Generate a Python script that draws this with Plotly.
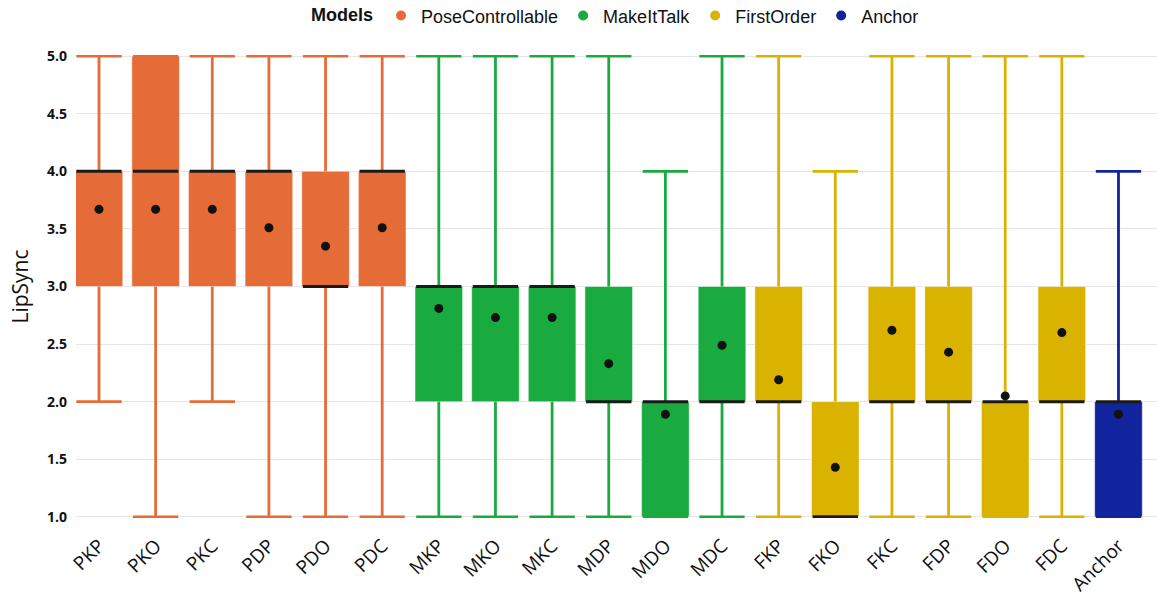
import plotly.graph_objects as go

# LipSync scores per configuration
categories = ["PKP", "PKO", "PKC", "PDP", "PDO", "PDC",
              "MKP", "MKO", "MKC", "MDP", "MDO", "MDC",
              "FKP", "FKO", "FKC", "FDP", "FDO", "FDC", "Anchor"]
groups = ["PoseControllable"] * 6 + ["MakeItTalk"] * 6 + ["FirstOrder"] * 6 + ["Anchor"]

mins    = [2, 1, 2, 1, 1, 1,  1, 1, 1, 1, 1, 1,  1, 1, 1, 1, 1, 1,  1]
q1s     = [3, 3, 3, 3, 3, 3,  2, 2, 2, 2, 1, 2,  2, 1, 2, 2, 1, 2,  1]
medians = [4, 4, 4, 4, 3, 4,  3, 3, 3, 2, 2, 2,  2, 1, 2, 2, 2, 2,  2]
q3s     = [4, 5, 4, 4, 4, 4,  3, 3, 3, 3, 2, 3,  3, 2, 3, 3, 2, 3,  2]
maxs    = [5, 5, 5, 5, 5, 5,  5, 5, 5, 5, 4, 5,  5, 4, 5, 5, 5, 5,  4]
means   = [3.67, 3.67, 3.67, 3.51, 3.35, 3.51,
           2.81, 2.73, 2.73, 2.33, 1.89, 2.49,
           2.19, 1.43, 2.62, 2.43, 2.05, 2.60,
           1.89]

model_names = ["PoseControllable", "MakeItTalk", "FirstOrder", "Anchor"]
model_colors = {
    "PoseControllable": "#E66C37",
    "MakeItTalk": "#1AAB40",
    "FirstOrder": "#D9B300",
    "Anchor": "#12239E",
}

y_ticks = [1.0, 1.5, 2.0, 2.5, 3.0, 3.5, 4.0, 4.5, 5.0]

BOX_W = 0.84
CAP_W = 0.80

fig = go.Figure()
positions = list(range(len(categories)))

# whiskers with caps, drawn first so boxes sit on top
for name in model_names:
    xs, ys = [], []
    for i, g in enumerate(groups):
        if g != name:
            continue
        # lower whisker + cap
        xs += [i, i, None, i - CAP_W / 2, i + CAP_W / 2, None]
        ys += [mins[i], q1s[i], None, mins[i], mins[i], None]
        # upper whisker + cap
        xs += [i, i, None, i - CAP_W / 2, i + CAP_W / 2, None]
        ys += [q3s[i], maxs[i], None, maxs[i], maxs[i], None]
    fig.add_trace(go.Scatter(
        x=xs, y=ys, mode="lines",
        line=dict(color=model_colors[name], width=2.8),
        hoverinfo="skip", showlegend=False, cliponaxis=False,
    ))

# interquartile boxes
for name in model_names:
    idx = [i for i, g in enumerate(groups) if g == name]
    fig.add_trace(go.Bar(
        x=idx,
        y=[q3s[i] - q1s[i] for i in idx],
        base=[q1s[i] for i in idx],
        width=BOX_W,
        marker=dict(color=model_colors[name],
                    line=dict(color="rgba(255,255,255,0.45)", width=1)),
        showlegend=False,
        hovertemplate="%{customdata}<extra></extra>",
        customdata=[categories[i] for i in idx],
    ))

# median lines
mx, my = [], []
for i in positions:
    mx += [i - BOX_W / 2 + 0.02, i + BOX_W / 2 - 0.02, None]
    my += [medians[i], medians[i], None]
fig.add_trace(go.Scatter(
    x=mx, y=my, mode="lines",
    line=dict(color="#1a1a1a", width=3),
    hoverinfo="skip", showlegend=False, cliponaxis=False,
))

# mean markers
fig.add_trace(go.Scatter(
    x=positions, y=means, mode="markers",
    marker=dict(color="#111111", size=9),
    showlegend=False, hovertemplate="mean %{y:.2f}<extra></extra>",
))

# legend entries
for name in model_names:
    fig.add_trace(go.Scatter(
        x=[None], y=[None], mode="markers", name=name,
        marker=dict(color=model_colors[name], size=10, symbol="circle"),
    ))

fig.update_layout(
    width=1157, height=608,
    margin=dict(l=76, r=0, t=55, b=90),
    paper_bgcolor="white", plot_bgcolor="white",
    barmode="overlay",
    font=dict(family="Open Sans, DejaVu Sans, sans-serif", color="#111111"),
    legend=dict(
        orientation="h",
        x=0.5, xanchor="center",
        y=0.974, yref="container", yanchor="middle",
        title=dict(text="<b>Models</b>",
                   font=dict(family="Liberation Sans, Arial, sans-serif", size=18)),
        font=dict(family="Liberation Sans, Arial, sans-serif", size=18, color="#111111"),
        itemwidth=30,
        tracegroupgap=0,
    ),
    xaxis=dict(
        range=[-0.406, 18.68],
        tickmode="array",
        tickvals=positions,
        ticktext=categories,
        tickangle=-45,
        tickfont=dict(family="Open Sans, sans-serif", size=19, color="#111111"),
        showgrid=False, zeroline=False, showline=False,
        ticks="",
        ticklabelstandoff=12,
    ),
    yaxis=dict(
        range=[0.99, 5.01],
        tickmode="array",
        tickvals=y_ticks,
        ticktext=[f"<b>{v:.1f}</b>" for v in y_ticks],
        tickfont=dict(family="Open Sans, sans-serif", size=14, color="#111111"),
        showgrid=True, gridcolor="#E6E6E6", gridwidth=1,
        zeroline=False, showline=False,
        ticklabelstandoff=8,
        title=dict(text="LipSync",
                   font=dict(family="Open Sans, sans-serif", size=21, color="#111111"),
                   standoff=12),
    ),
)

fig.write_html("out.html")
